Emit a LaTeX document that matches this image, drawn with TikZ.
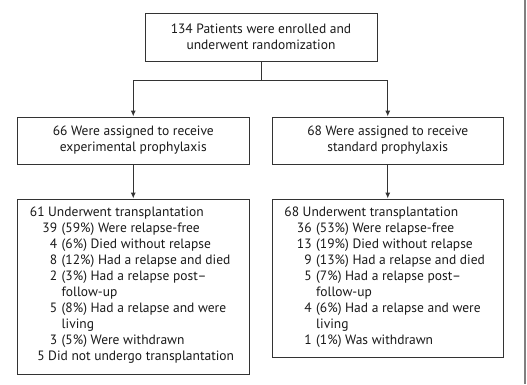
\documentclass[tikz,border=0pt]{standalone}
\usepackage{fontspec}
\setmainfont{PT Sans}
\usetikzlibrary{arrows.meta}
\newcommand{\LvA}[2]{\makebox[27.5pt][r]{#1}\hspace*{3.5pt}#2}
\newcommand{\LvB}[2]{\makebox[40pt][r]{#1}\hspace*{4.5pt}#2}
\newcommand{\LvC}[1]{\hspace*{44.5pt}#1}
\tikzset{
  box/.style={draw=black!80, line width=1pt, inner sep=0pt, minimum width=231.5pt,
    align=center, font=\fontsize{13.5}{16}\selectfont, text=black!90},
  list/.style={anchor=base west, inner sep=0pt, font=\fontsize{13.5}{16}\selectfont, text=black!90},
  conn/.style={draw=black!80, line width=1pt},
  arr/.style={conn, -{Latex[length=6pt,width=5pt]}}
}
\begin{document}
\begin{tikzpicture}[x=1pt,y=-1pt]
\useasboundingbox (0,0) rectangle (527,384);
\fill[white] (0,0) rectangle (527,384);
\draw[black!50, line width=1.2pt] (525,0) -- (525,384);

\node[box, minimum width=232pt, minimum height=47.6pt] (top) at (261,37.2)
  {134 Patients were enrolled and\\underwent randomization};
\node[box, minimum height=47pt] (expA) at (133.25,140.5)
  {66 Were assigned to receive\\experimental prophylaxis};
\node[box, minimum height=47pt] (stdA) at (387.75,140.5)
  {68 Were assigned to receive\\standard prophylaxis};
\node[box, minimum height=175pt] (expB) at (133.25,286.5) {};
\node[box, minimum height=158pt] (stdB) at (387.75,278) {};

\coordinate (split) at (261,80.7);
\draw[conn] (top.south) -- (split);
\draw[arr] (split) -| (expA.north);
\draw[arr] (split) -| (stdA.north);
\draw[arr] (expA.south) -- (expB.north);
\draw[arr] (stdA.south) -- (stdB.north);

\node[list] (expT) at ([yshift=-18pt]expB.north west) {%
\renewcommand{\arraystretch}{1}%
\begin{tabular}[t]{@{}l@{}}
\LvA{61}{Underwent transplantation}\\
\LvB{39}{(59\%) Were relapse-free}\\
\LvB{4}{(6\%) Died without relapse}\\
\LvB{8}{(12\%) Had a relapse and died}\\
\LvB{2}{(3\%) Had a relapse post–}\\
\LvC{follow-up}\\
\LvB{5}{(8\%) Had a relapse and were}\\
\LvC{living}\\
\LvB{3}{(5\%) Were withdrawn}\\
\LvA{5}{Did not undergo transplantation}
\end{tabular}};

\node[list] (stdT) at ([yshift=-18pt]stdB.north west) {%
\renewcommand{\arraystretch}{1}%
\begin{tabular}[t]{@{}l@{}}
\LvA{68}{Underwent transplantation}\\
\LvB{36}{(53\%) Were relapse-free}\\
\LvB{13}{(19\%) Died without relapse}\\
\LvB{9}{(13\%) Had a relapse and died}\\
\LvB{5}{(7\%) Had a relapse post–}\\
\LvC{follow-up}\\
\LvB{4}{(6\%) Had a relapse and were}\\
\LvC{living}\\
\LvB{1}{(1\%) Was withdrawn}
\end{tabular}};
\end{tikzpicture}
\end{document}
